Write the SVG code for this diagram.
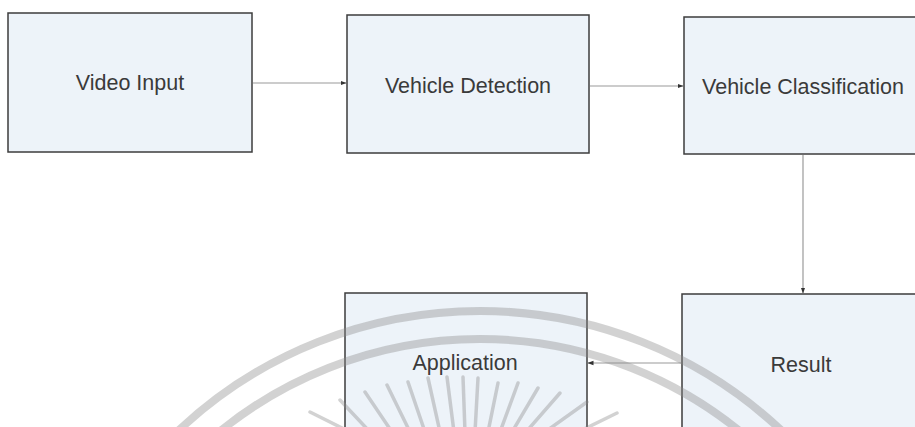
<svg xmlns="http://www.w3.org/2000/svg" width="915" height="427" viewBox="0 0 915 427">
<defs>
<style>
.box{fill:#edf3f9;stroke:#3c3c3c;stroke-width:1.5}
.lbl{font-family:"Liberation Sans",Arial,sans-serif;font-size:21.5px;fill:#3a3a3a;text-anchor:middle}
.conn{stroke:#9a9a9a;stroke-width:1.2;fill:none;marker-end:url(#ah)}
.wm{stroke:#888;stroke-opacity:0.38;fill:none}
</style>
<marker id="ah" markerWidth="6" markerHeight="6" refX="5.5" refY="3" orient="auto" markerUnits="userSpaceOnUse">
<path d="M0,0.8 L6,3 L0,5.2 Z" fill="#333"/>
</marker>
</defs>
<rect width="915" height="427" fill="#ffffff"/>
<g id="video-input">
<rect class="box" x="8" y="13" width="244" height="139"/>
<text class="lbl" x="130" y="90">Video Input</text>
</g>
<g id="vehicle-detection">
<rect class="box" x="347" y="15" width="242" height="138"/>
<text class="lbl" x="468" y="93">Vehicle Detection</text>
</g>
<g id="vehicle-classification">
<rect class="box" x="684" y="17" width="242" height="137"/>
<text class="lbl" x="803" y="94">Vehicle Classification</text>
</g>
<g id="result">
<rect class="box" x="682" y="294" width="244" height="140"/>
<text class="lbl" x="801" y="372">Result</text>
</g>
<g id="application">
<rect class="box" x="345" y="293" width="242" height="140"/>
<text class="lbl" x="465" y="370">Application</text>
</g>
<g id="connectors">
<line class="conn" x1="253" y1="83" x2="346" y2="83"/>
<line class="conn" x1="590" y1="86" x2="683" y2="86"/>
<line class="conn" x1="803" y1="155" x2="803" y2="293"/>
<line class="conn" x1="681" y1="363" x2="588" y2="363"/>
</g>
<g id="watermark" class="wm">
<circle cx="480" cy="751" r="440" stroke-width="8"/>
<circle cx="480" cy="751" r="412" stroke-width="8"/>
<g stroke-width="3.5" stroke-linecap="round">
<line x1="310" y1="412" x2="350" y2="432"/>
<line x1="340" y1="400" x2="370" y2="432"/>
<line x1="365" y1="392" x2="392" y2="432"/>
<line x1="387" y1="385" x2="410" y2="432"/>
<line x1="408" y1="382" x2="425" y2="432"/>
<line x1="428" y1="378" x2="440" y2="432"/>
<line x1="447" y1="377" x2="454" y2="432"/>
<line x1="463" y1="377" x2="465" y2="432"/>
<line x1="478" y1="378" x2="475" y2="432"/>
<line x1="498" y1="383" x2="488" y2="432"/>
<line x1="518" y1="383" x2="500" y2="432"/>
<line x1="538" y1="388" x2="512" y2="432"/>
<line x1="560" y1="393" x2="526" y2="432"/>
<line x1="587" y1="402" x2="545" y2="432"/>
<line x1="617" y1="413" x2="570" y2="436"/>
</g>
</g>
</svg>
